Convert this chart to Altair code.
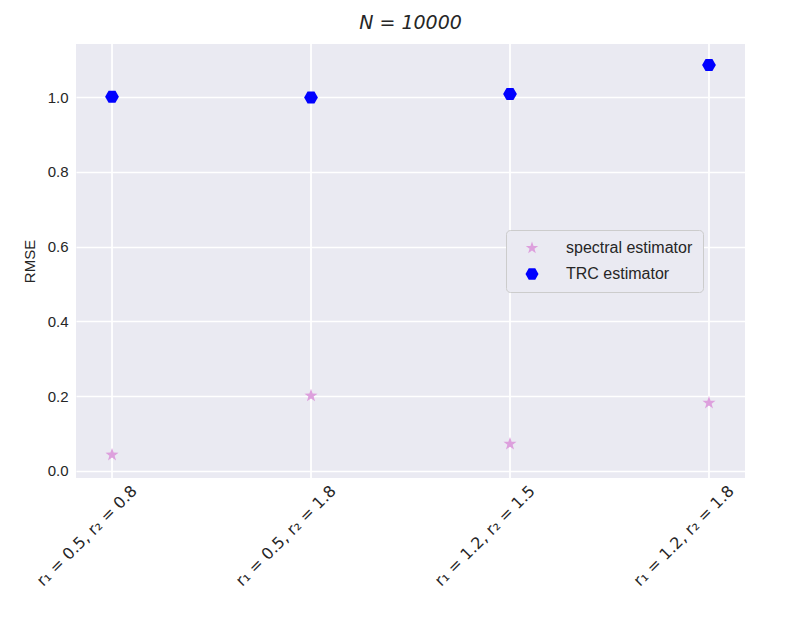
import altair as alt
import pandas as pd

categories = ["r₁ = 0.5, r₂ = 0.8", "r₁ = 0.5, r₂ = 1.8", "r₁ = 1.2, r₂ = 1.5", "r₁ = 1.2, r₂ = 1.8"]
spectral = [0.043, 0.201, 0.072, 0.182]
trc = [1.001, 0.999, 1.008, 1.086]
series = ["spectral estimator", "TRC estimator"]
y_ticks = [0.0, 0.2, 0.4, 0.6, 0.8, 1.0]

rows = []
for c, s, t in zip(categories, spectral, trc):
    rows.append({"cat": c, "rmse": s, "est": series[0]})
    rows.append({"cat": c, "rmse": t, "est": series[1]})
df = pd.DataFrame(rows)

hexagon = "M-1,0L-0.5,-0.866L0.5,-0.866L1,0L0.5,0.866L-0.5,0.866Z"
star = ("M0,-1L0.235,-0.324L0.951,-0.309L0.38,0.124L0.588,0.809L0,0.4"
        "L-0.588,0.809L-0.38,0.124L-0.951,-0.309L-0.235,-0.324Z")

x_enc = alt.X("cat:N",
              scale=alt.Scale(type="point", padding=0.181),
              axis=alt.Axis(title=None, labelAngle=-45, labelAlign="right", labelBaseline="middle",
                            labelFont="DejaVu Sans", labelFontSize=16, labelColor="#262626",
                            labelOffset=22, labelPadding=10, ticks=False, domain=False,
                            grid=False))

base = alt.Chart(df)

vgrid = base.mark_rule(color="white", strokeWidth=1.3).encode(x=x_enc)

points = base.mark_point(filled=True, opacity=1, size=190).encode(
    x=x_enc,
    y=alt.Y("rmse:Q", scale=alt.Scale(domain=[-0.019, 1.142], nice=False, zero=False),
            axis=alt.Axis(title="RMSE", values=y_ticks, format=".1f",
                          labelFont="Liberation Sans", labelFontSize=15, labelColor="#262626",
                          titleFont="Liberation Sans", titleFontSize=15, titleFontWeight="normal",
                          titleColor="#262626", titlePadding=10,
                          labelPadding=8, ticks=False, domain=False,
                          grid=True, gridColor="white", gridWidth=1.3)),
    color=alt.Color("est:N", scale=alt.Scale(domain=series, range=["plum", "blue"]),
                    legend=alt.Legend(title=None, orient="none", legendX=430, legendY=186,
                                      fillColor="#eaeaf2", strokeColor="#cccccc",
                                      cornerRadius=4, padding=10,
                                      labelFont="Liberation Sans", labelFontSize=16,
                                      labelColor="#262626", labelOffset=26, rowPadding=10,
                                      symbolOffset=8, symbolSize=170)),
    shape=alt.Shape("est:N", scale=alt.Scale(domain=series, range=[star, hexagon]),
                    legend=alt.Legend(title=None, orient="none", legendX=430, legendY=186,
                                      fillColor="#eaeaf2", strokeColor="#cccccc",
                                      cornerRadius=4, padding=10,
                                      labelFont="Liberation Sans", labelFontSize=16,
                                      labelColor="#262626", labelOffset=26, rowPadding=10,
                                      symbolOffset=8, symbolSize=170)),
)

chart = alt.layer(vgrid, points).properties(
    width=669, height=434,
    title=alt.TitleParams("N = 10000", font="DejaVu Sans", fontSize=19, fontWeight="normal",
                          fontStyle="italic", color="#262626", offset=10),
    autosize=alt.AutoSizeParams(type="none"),
    padding={"left": 76, "top": 44, "right": 42, "bottom": 150},
).configure_view(fill="#eaeaf2", strokeWidth=0)

chart.save("out.html", embed_options={"renderer": "svg", "actions": False})
